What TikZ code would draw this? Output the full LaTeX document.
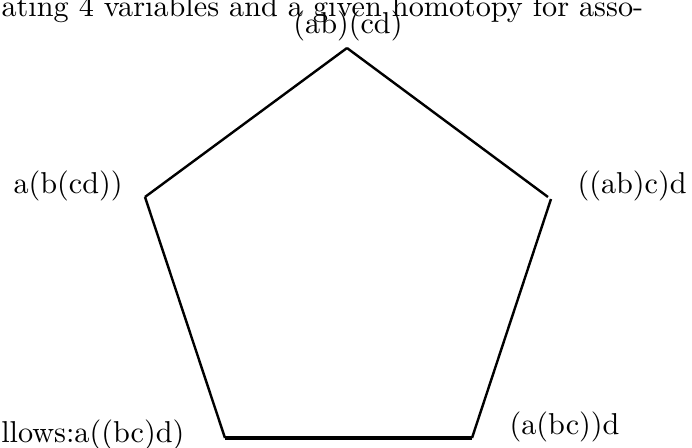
\documentclass[tikz,border=0pt]{standalone}
\begin{document}
\begin{tikzpicture}[x=0.3311pt, y=-0.3311pt,
  edge/.style={line width=0.8pt},
  lbl/.style={inner sep=0pt, anchor=base}]
\useasboundingbox (0,0) rectangle (692,448);
\clip (0,0) rectangle (692,448);
\node[lbl, anchor=base west] (txt) at (1,16) {ating 4 variables and a given homotopy for asso-};
\coordinate (T) at (347,48);
\coordinate (L) at (145,197);
\coordinate (R1) at (548,197);
\coordinate (R2) at (551,199);
\coordinate (BL) at (225,438);
\coordinate (BR) at (472,438);
\node[lbl] (nT) at (348,33) {(ab)(cd)};
\node[lbl, anchor=base west] (nL) at (13,193) {a(b(cd))};
\node[lbl, anchor=base west] (nR) at (577,193) {((ab)c)d};
\node[lbl, anchor=base east] (nBL) at (185,442) {llows:a((bc)d)};
\node[lbl, anchor=base west] (nBR) at (509,435) {(a(bc))d};
\draw[edge] (T) -- (L);
\draw[edge] (T) -- (R1);
\draw[edge] (L) -- (BL);
\draw[edge] (R2) -- (BR);
\draw[line width=1.1pt] (BL) -- (BR);
\end{tikzpicture}
\end{document}
